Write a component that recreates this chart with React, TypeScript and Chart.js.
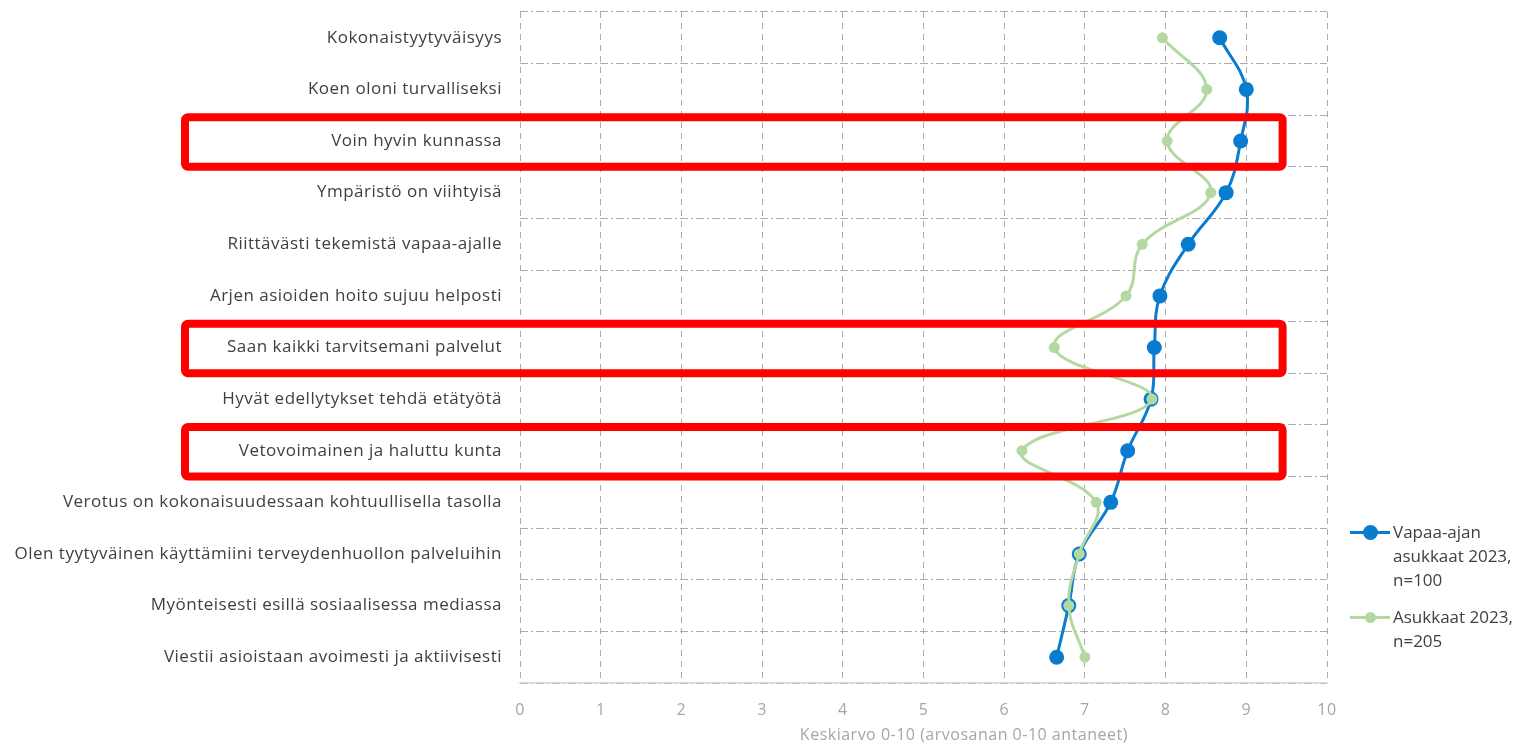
import React, { useEffect, useRef } from "react";
import { Chart, registerables } from "chart.js";

Chart.register(...registerables);

const categories = [
  "Kokonaistyytyväisyys",
  "Koen oloni turvalliseksi",
  "Voin hyvin kunnassa",
  "Ympäristö on viihtyisä",
  "Riittävästi tekemistä vapaa-ajalle",
  "Arjen asioiden hoito sujuu helposti",
  "Saan kaikki tarvitsemani palvelut",
  "Hyvät edellytykset tehdä etätyötä",
  "Vetovoimainen ja haluttu kunta",
  "Verotus on kokonaisuudessaan kohtuullisella tasolla",
  "Olen tyytyväinen käyttämiini terveydenhuollon palveluihin",
  "Myönteisesti esillä sosiaalisessa mediassa",
  "Viestii asioistaan avoimesti ja aktiivisesti",
];

const vapaaAjanLabel = ["Vapaa-ajan", "asukkaat 2023,", "n=100"];
const asukkaatLabel = ["Asukkaat 2023,", "n=205"];

const vapaaAjan = [8.67, 9.0, 8.93, 8.75, 8.28, 7.93, 7.86, 7.82, 7.53, 7.32, 6.93, 6.8, 6.65];
const asukkaat = [7.96, 8.51, 8.02, 8.56, 7.71, 7.51, 6.62, 7.83, 6.22, 7.14, 6.93, 6.8, 7.0];

const xMin = 0;
const xMax = 10;
const xTitle = "Keskiarvo 0-10 (arvosanan 0-10 antaneet)";

const highlighted = [
  "Voin hyvin kunnassa",
  "Saan kaikki tarvitsemani palvelut",
  "Vetovoimainen ja haluttu kunta",
];

const BLUE = "#0a7ccf";
const GREEN = "#b3d9a0";

const spacingPlugin = {
  id: "letterSpacing",
  beforeDraw(chart: any) {
    try {
      chart.ctx.letterSpacing = "0.5px";
    } catch (e) {}
  },
};

const highlightPlugin = {
  id: "highlightRows",
  afterDraw(chart: any) {
    const { ctx, chartArea, scales } = chart;
    const y = scales.y;
    const x = scales.x;
    const half = (y.getPixelForValue(1) - y.getPixelForValue(0)) / 2;
    ctx.save();
    ctx.strokeStyle = "#ff0000";
    ctx.lineWidth = 8;
    ctx.lineJoin = "round";
    const left = chartArea.left - 335;
    const right = x.getPixelForValue(9.45);
    highlighted.forEach((label) => {
      const i = categories.indexOf(label);
      const cy = y.getPixelForValue(i);
      const top = cy - half + 2;
      const h = 2 * half - 2;
      ctx.beginPath();
      if (ctx.roundRect) ctx.roundRect(left, top, right - left, h, 3);
      else ctx.rect(left, top, right - left, h);
      ctx.stroke();
    });
    ctx.restore();
  },
};

const axisTitlePlugin = {
  id: "axisTitle",
  afterDraw(chart: any) {
    const { ctx, scales } = chart;
    const x = scales.x;
    ctx.save();
    ctx.fillStyle = "#a6a6a6";
    ctx.font = "16px 'Open Sans'";
    ctx.textAlign = "center";
    ctx.textBaseline = "middle";
    ctx.fillText(xTitle, x.getPixelForValue(5.5), 735);
    ctx.restore();
  },
};

export default function App() {
  const canvasRef = useRef<HTMLCanvasElement | null>(null);

  useEffect(() => {
    if (!canvasRef.current) return;
    const chart = new Chart(canvasRef.current, {
      type: "line",
      data: {
        labels: categories,
        datasets: [
          {
            label: vapaaAjanLabel.join(" "),
            data: vapaaAjan,
            borderColor: BLUE,
            backgroundColor: BLUE,
            pointBackgroundColor: BLUE,
            pointBorderColor: BLUE,
            borderWidth: 3,
            pointRadius: 7.5,
            pointBorderWidth: 0,
            tension: 0.4,
            order: 1,
          },
          {
            label: asukkaatLabel.join(" "),
            data: asukkaat,
            borderColor: GREEN,
            backgroundColor: GREEN,
            pointBackgroundColor: GREEN,
            pointBorderColor: GREEN,
            borderWidth: 3,
            pointRadius: 5.5,
            pointBorderWidth: 0,
            tension: 0.4,
            order: 0,
          },
        ],
      },
      options: {
        indexAxis: "y",
        animation: false,
        responsive: false,
        maintainAspectRatio: false,
        layout: { padding: { top: 12, right: 189, left: 0, bottom: 0 } },
        plugins: {
          legend: { display: false },
          tooltip: { enabled: false },
        },
        scales: {
          x: {
            type: "linear",
            min: xMin,
            max: xMax,
            ticks: {
              stepSize: 1,
              color: "#a6a6a6",
              font: { family: "'Open Sans'", size: 16 },
              padding: 18,
            },
            grid: {
              color: "#ababab",
              lineWidth: 1,
              drawTicks: false,
            },
            border: { display: true, color: "#d5dbe1", width: 1.5, dash: [6, 5] },
            afterFit(scale: any) {
              scale.height = 60;
            },
          },
          y: {
            type: "category",
            offset: true,
            ticks: {
              color: "#404040",
              font: { family: "'Open Sans'", size: 17 },
              padding: 18,
              autoSkip: false,
            },
            grid: {
              offset: true,
              color: "#ababab",
              lineWidth: 1,
              drawTicks: false,
            },
            border: { display: false, dash: [8, 3, 2, 3] },
            afterFit(scale: any) {
              scale.width = 520;
              scale.paddingTop = 0;
              scale.paddingBottom = 0;
            },
          },
        },
      },
      plugins: [spacingPlugin, highlightPlugin, axisTitlePlugin],
    });
    return () => chart.destroy();
  }, []);

  const legendText: React.CSSProperties = {
    fontFamily: "'Open Sans'",
    fontSize: 17,
    color: "#404040",
    lineHeight: "24px",
  };

  const marker = (color: string, r: number) => (
    <div style={{ position: "relative", width: 40, height: 24, flex: "0 0 40px" }}>
      <div style={{ position: "absolute", left: 0, right: 0, top: 10.5, height: 3, background: color }} />
      <div
        style={{
          position: "absolute",
          left: 20 - r,
          top: 12 - r,
          width: 2 * r,
          height: 2 * r,
          borderRadius: "50%",
          background: color,
        }}
      />
    </div>
  );

  return (
    <div style={{ position: "absolute", left: 0, top: 0, width: 1516, height: 743, background: "#fff" }}>
      <canvas ref={canvasRef} width={1516} height={743} style={{ display: "block" }} />
      <div style={{ position: "absolute", left: 1350, top: 520, display: "flex", alignItems: "flex-start" }}>
        {marker(BLUE, 7.5)}
        <div style={{ ...legendText, marginLeft: 3 }}>
          {vapaaAjanLabel.map((t) => (
            <div key={t}>{t}</div>
          ))}
        </div>
      </div>
      <div style={{ position: "absolute", left: 1350, top: 605, display: "flex", alignItems: "flex-start" }}>
        {marker(GREEN, 5.5)}
        <div style={{ ...legendText, marginLeft: 3 }}>
          {asukkaatLabel.map((t) => (
            <div key={t}>{t}</div>
          ))}
        </div>
      </div>
    </div>
  );
}
